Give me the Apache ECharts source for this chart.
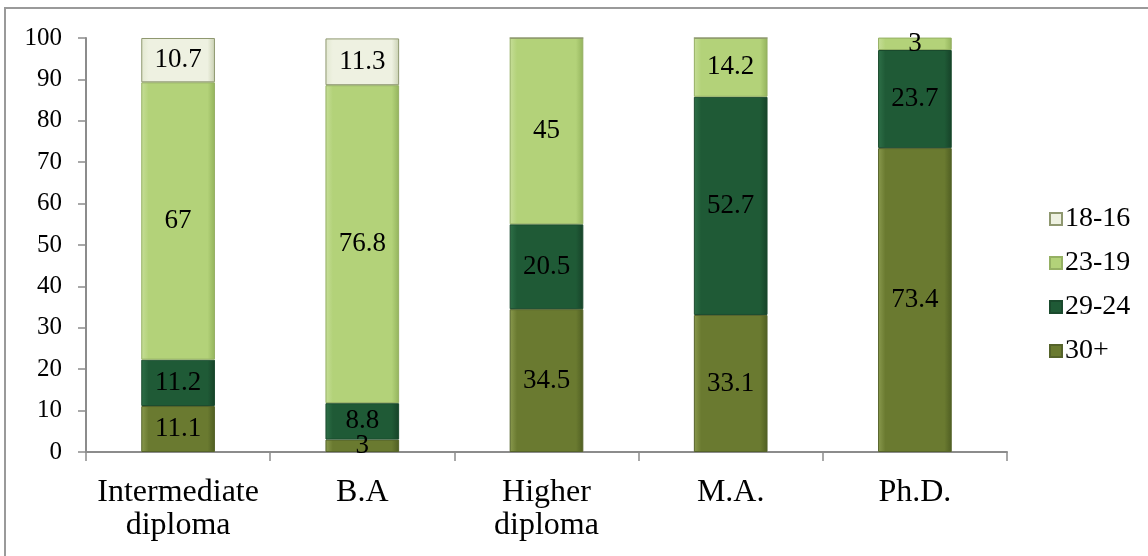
<!DOCTYPE html>
<html>
<head>
<meta charset="utf-8">
<script src="https://cdn.jsdelivr.net/npm/echarts@6/dist/echarts.min.js"></script>
<style>
  html, body { margin: 0; padding: 0; background: #fff; overflow: hidden; }
  #frame { position: absolute; left: 4px; top: 7px; width: 1160px; height: 570px; border: 2px solid #9a9a9a; box-sizing: border-box; }
  #chart { position: absolute; left: 0; top: 0; width: 1148px; height: 556px; }
</style>
</head>
<body>
<div id="frame"></div>
<div id="chart"></div>
<script>
const categories = ['Intermediate\ndiploma', 'B.A', 'Higher\ndiploma', 'M.A.', 'Ph.D.'];
const age30plus = [11.1, 3, 34.5, 33.1, 73.4];
const age29to24 = [11.2, 8.8, 20.5, 52.7, 23.7];
const age23to19 = [67, 76.8, 45, 14.2, 3];
const age18to16 = [10.7, 11.3, 0, 0, 0];
const yTicks = [0, 10, 20, 30, 40, 50, 60, 70, 80, 90, 100];

const chart = echarts.init(document.getElementById('chart'));

function bevel(edge, mid, dark) {
    return new echarts.graphic.LinearGradient(0, 0, 1, 0, [
        { offset: 0, color: edge },
        { offset: 0.1, color: mid },
        { offset: 0.9, color: mid },
        { offset: 1, color: dark }
    ]);
}

const font = 'Liberation Serif, Times New Roman, serif';

function makeSeries(name, data, edge, mid, dark, border) {
    return {
        name: name,
        type: 'bar',
        stack: 'all',
        barWidth: '40%',
        data: data,
        itemStyle: {
            color: bevel(edge, mid, dark),
            borderColor: border,
            borderWidth: 1
        },
        label: {
            show: true,
            position: 'inside',
            color: '#000',
            fontFamily: font,
            fontSize: 27,
            formatter: function (p) { return p.value ? String(p.value) : ''; }
        }
    };
}

const option = {
    animation: false,
    grid: { left: 86, right: 141, top: 38, bottom: 104 },
    legend: {
        orient: 'vertical',
        left: 1044,
        top: 200,
        itemGap: 16,
        itemWidth: 12,
        itemHeight: 12,
        icon: 'rect',
        data: ['18-16', '23-19', '29-24', '30+'],
        textStyle: { fontFamily: font, fontSize: 28, color: '#000', padding: [0, 0, 0, -2] }
    },
    xAxis: {
        type: 'category',
        data: categories,
        axisLine: { lineStyle: { color: '#8c8c8c', width: 2 } },
        axisTick: { show: true, length: 9, lineStyle: { color: '#8c8c8c', width: 1.5 } },
        axisLabel: {
            interval: 0,
            fontFamily: font,
            fontSize: 32,
            color: '#000',
            lineHeight: 33,
            margin: 24
        }
    },
    yAxis: {
        type: 'value',
        min: 0,
        max: 100,
        interval: 10,
        splitLine: { show: false },
        axisLine: { show: true, lineStyle: { color: '#8c8c8c', width: 2 } },
        axisTick: { show: true, length: 8, lineStyle: { color: '#8c8c8c', width: 1.5 } },
        axisLabel: {
            fontFamily: font,
            fontSize: 25,
            color: '#000',
            margin: 24,
            formatter: function (v) { return yTicks.indexOf(v) >= 0 ? String(v) : ''; }
        }
    },
    series: [
        makeSeries('30+', age30plus, '#8a9a4e', '#6a7a30', '#4f5e22', '#55632a'),
        makeSeries('29-24', age29to24, '#2e7048', '#1f5a36', '#164228', '#1a4a2d'),
        makeSeries('23-19', age23to19, '#c6de98', '#b3d279', '#93b35c', '#95b063'),
        makeSeries('18-16', age18to16, '#e2e8d0', '#eef1e1', '#c9d0b2', '#8f9870')
    ]
};

chart.setOption(option);
</script>
</body>
</html>
